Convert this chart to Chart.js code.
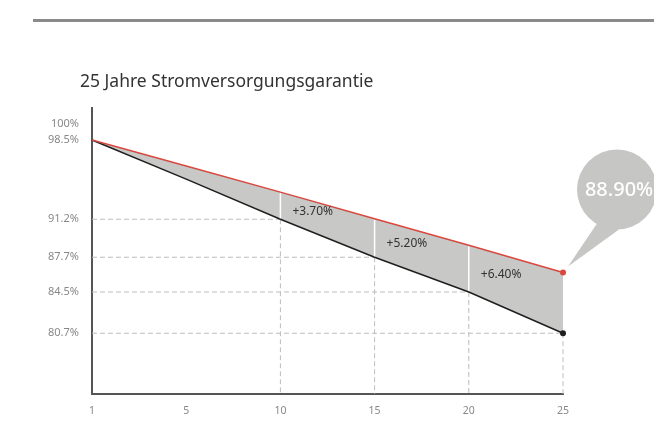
<!DOCTYPE html>
<html>
<head>
<meta charset="utf-8">
<script src="https://cdn.jsdelivr.net/npm/chart.js@4/dist/chart.umd.min.js"></script>
<style>
    html, body { margin: 0; padding: 0; background: #fff; }
    body { width: 654px; height: 423px; position: relative; overflow: hidden; font-family: 'Noto Sans', sans-serif; }
    .rule { position: absolute; left: 33px; right: 0; top: 19px; height: 3px; background: #8a8a8a; }
    .title { position: absolute; left: 80px; top: 67px; font-size: 17.5px; line-height: 26px; color: #333; z-index: 2; }
    #chart { position: absolute; left: 0; top: 0; }
</style>
</head>
<body>
<div class="rule"></div>
<div class="title">25 Jahre Stromversorgungsgarantie</div>
<canvas id="chart" width="654" height="423"></canvas>
<script>
// --- data ---
const YEARS = ['1', '5', '10', '15', '20', '25'];
const GUARANTEE = [98.5, 96.1, 93.7, 91.25, 88.8, 86.3];   // obere Linie (rot)
const STANDARD = [98.5, 94.9, 91.2, 87.7, 84.5, 80.7];     // untere Linie (schwarz)
const Y_TICKS = [80.7, 84.5, 87.7, 91.2, 98.5, 100];
const DIFF_INDEX = [2, 3, 4];
const DIFF_LABELS = ['+3.70%', '+5.20%', '+6.40%'];
const DROP_INDEX = [2, 3, 4, 5];
const BUBBLE_TEXT = '88.90%';

const RED = '#d9483f';
const DARK = '#1f1f1f';
const FILL = '#c8c8c6';
const LAST = YEARS.length - 1;

const guides = {
    id: 'guides',
    // gestrichelte Hilfslinien von den unteren Punkten zu den Achsen
    beforeDatasetsDraw(chart) {
        const { ctx, chartArea, scales: { x, y } } = chart;
        ctx.save();
        ctx.strokeStyle = '#bdbdbd';
        ctx.lineWidth = 1;
        ctx.setLineDash([5, 3]);
        DROP_INDEX.forEach(i => {
            const px = x.getPixelForValue(i);
            const py = y.getPixelForValue(STANDARD[i]);
            ctx.beginPath();
            ctx.moveTo(chartArea.left, py);
            ctx.lineTo(px, py);
            ctx.moveTo(px, py);
            ctx.lineTo(px, chartArea.bottom);
            ctx.stroke();
        });
        ctx.restore();
    },
    // weisse Trennlinien in der grauen Fläche
    afterDatasetDraw(chart, args) {
        if (args.index !== 1) return;
        const { ctx, scales: { x, y } } = chart;
        ctx.save();
        ctx.strokeStyle = '#ffffff';
        ctx.lineWidth = 1.5;
        DIFF_INDEX.forEach(i => {
            const px = x.getPixelForValue(i);
            ctx.beginPath();
            ctx.moveTo(px, y.getPixelForValue(GUARANTEE[i]) + 1);
            ctx.lineTo(px, y.getPixelForValue(STANDARD[i]) - 1);
            ctx.stroke();
        });
        ctx.restore();
    },
    afterDatasetsDraw(chart) {
        const { ctx, scales: { x, y } } = chart;
        ctx.save();
        ctx.fillStyle = '#333';
        ctx.font = '12px "Noto Sans"';
        ctx.textAlign = 'left';
        ctx.textBaseline = 'middle';
        DIFF_INDEX.forEach((i, k) => {
            const px = x.getPixelForValue(i);
            const mid = (y.getPixelForValue(GUARANTEE[i]) + y.getPixelForValue(STANDARD[i])) / 2;
            ctx.fillText(DIFF_LABELS[k], px + 12, mid + 6);
        });

        // Sprechblase am letzten Punkt
        const ax = x.getPixelForValue(LAST);
        const ay = y.getPixelForValue(GUARANTEE[LAST]);
        const cx = ax + 54, cy = ay - 83, r = 40;
        ctx.fillStyle = '#c6c6c4';
        ctx.beginPath();
        ctx.arc(cx, cy, r, 0, Math.PI * 2);
        ctx.fill();
        ctx.beginPath();
        ctx.moveTo(ax + 5, ay - 6);
        ctx.lineTo(cx - 20, cy + 34);
        ctx.lineTo(cx + 2, cy + 40);
        ctx.closePath();
        ctx.fill();
        ctx.fillStyle = '#ffffff';
        ctx.font = '500 20px "Noto Sans"';
        ctx.textAlign = 'center';
        ctx.fillText(BUBBLE_TEXT, cx + 2, cy + 1);
        ctx.restore();
    },
};

new Chart(document.getElementById('chart'), {
    type: 'line',
    data: {
        labels: YEARS,
        datasets: [
            {
                label: 'Garantie',
                data: GUARANTEE,
                borderColor: RED,
                borderWidth: 1.5,
                pointRadius: ctx => ctx.dataIndex === LAST ? 3 : 0,
                pointBackgroundColor: RED,
                pointBorderWidth: 0,
                fill: false,
                tension: 0,
            },
            {
                label: 'Standard',
                data: STANDARD,
                borderColor: DARK,
                borderWidth: 1.5,
                pointRadius: ctx => ctx.dataIndex === LAST ? 3 : 0,
                pointBackgroundColor: DARK,
                pointBorderWidth: 0,
                backgroundColor: FILL,
                fill: '-1',
                tension: 0,
            },
        ],
    },
    options: {
        responsive: false,
        animation: false,
        devicePixelRatio: 1,
        layout: { padding: { top: 108, right: 91, left: 0, bottom: 0 } },
        plugins: {
            legend: { display: false },
            tooltip: { enabled: false },
        },
        scales: {
            x: {
                type: 'category',
                offset: false,
                grid: { display: false, drawTicks: false },
                border: { display: true, color: '#555', width: 2 },
                ticks: {
                    color: '#888',
                    font: { size: 10.5, family: 'Noto Sans' },
                    padding: 11,
                    maxRotation: 0,
                    autoSkip: false,
                },
                afterFit: s => { s.height = 29; },
            },
            y: {
                min: 75.1,
                max: 101.45,
                afterBuildTicks: s => { s.ticks = Y_TICKS.map(v => ({ value: v })); },
                grid: { display: false, drawTicks: false },
                border: { display: true, color: '#555', width: 2 },
                ticks: {
                    color: '#888',
                    font: { size: 11, family: 'Noto Sans' },
                    padding: 13,
                    callback: v => v + '%',
                },
                afterFit: s => { s.width = 92; },
            },
        },
    },
    plugins: [guides],
});
</script>
</body>
</html>
